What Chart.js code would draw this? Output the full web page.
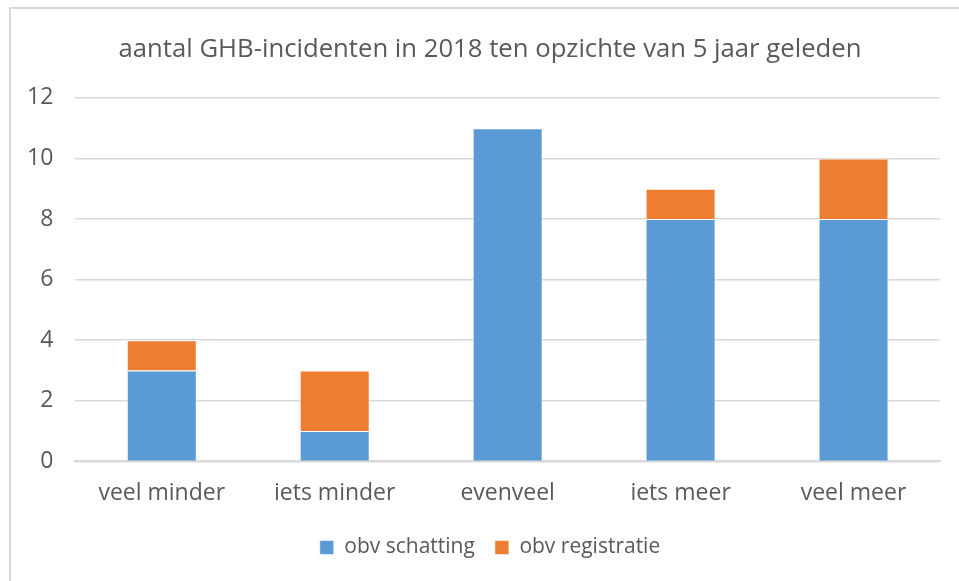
<!DOCTYPE html>
<html>
<head>
<meta charset="utf-8">
<script src="https://cdn.jsdelivr.net/npm/chart.js@4"></script>
<style>
  body { margin: 0; background: #fff; overflow: hidden; }
  #wrap { position: relative; width: 959px; height: 581px; overflow: hidden; }
</style>
</head>
<body>
<div id="wrap"><canvas id="myChart" width="980" height="581"></canvas></div>
<script>
var categories = ['veel minder', 'iets minder', 'evenveel', 'iets meer', 'veel meer'];
var schatting = [3, 1, 11, 8, 8];
var registratie = [1, 2, 0, 1, 2];
var yTicks = [0, 2, 4, 6, 8, 10, 12];

var fontFam = '"Open Sans", sans-serif';
var grey = '#595959';

// frame around the chart (only left and top edges are in view)
var framePlugin = {
    id: 'frame',
    beforeDraw: function (chart) {
        var c = chart.ctx;
        c.save();
        c.fillStyle = '#fff';
        c.fillRect(0, 0, chart.width, chart.height);
        c.strokeStyle = '#d9d9d9';
        c.lineWidth = 2;
        c.beginPath();
        c.moveTo(10, chart.height);
        c.lineTo(10, 8);
        c.lineTo(chart.width, 8);
        c.stroke();
        c.restore();
    }
};

var ctx = document.getElementById('myChart');

var chartGraph = new Chart(ctx, {
    type: 'bar',
    data: {
        labels: categories,
        datasets: [{
            label: 'obv schatting',
            data: schatting,
            backgroundColor: '#5B9BD5',
            borderColor: 'rgba(255,255,255,0.6)',
            borderWidth: 1,
            categoryPercentage: 1,
            barPercentage: 0.405
        }, {
            label: 'obv registratie',
            data: registratie,
            backgroundColor: '#ED7D31',
            borderColor: 'rgba(255,255,255,0.6)',
            borderWidth: 1,
            categoryPercentage: 1,
            barPercentage: 0.405
        }]
    },
    options: {
        responsive: false,
        animation: false,
        // canvas is a bit wider than the page so title/legend centre like the original
        layout: { padding: { left: 5, right: 5, top: 34, bottom: 13 } },
        plugins: {
            title: {
                display: true,
                text: 'aantal GHB-incidenten in 2018 ten opzichte van 5 jaar geleden',
                color: grey,
                font: { family: fontFam, size: 25.7, weight: 'normal' },
                padding: { top: 0, bottom: 33 }
            },
            legend: {
                position: 'bottom',
                labels: {
                    color: grey,
                    font: { family: fontFam, size: 21 },
                    boxWidth: 14,
                    boxHeight: 14,
                    padding: 20
                }
            },
            tooltip: { enabled: false }
        },
        scales: {
            x: {
                stacked: true,
                grid: { display: false },
                border: { color: '#d9d9d9', width: 2 },
                ticks: {
                    color: grey,
                    font: { family: fontFam, size: 23 },
                    padding: 10
                }
            },
            y: {
                stacked: true,
                min: 0,
                max: 12,
                afterBuildTicks: function (axis) {
                    axis.ticks = yTicks.map(function (v) { return { value: v }; });
                },
                grid: { color: '#d9d9d9', lineWidth: 1.5, drawTicks: false },
                border: { display: false },
                ticks: {
                    color: grey,
                    font: { family: fontFam, size: 23 },
                    padding: 22
                }
            },
            // empty spacer on the right, ends the plot at the same place as the original
            spacer: {
                type: 'linear',
                position: 'right',
                display: true,
                grid: { display: false, drawTicks: false },
                border: { display: false },
                ticks: { display: false },
                afterFit: function (axis) {
                    axis.width = 35;
                }
            }
        }
    },
    plugins: [framePlugin]
});
</script>
</body>
</html>
